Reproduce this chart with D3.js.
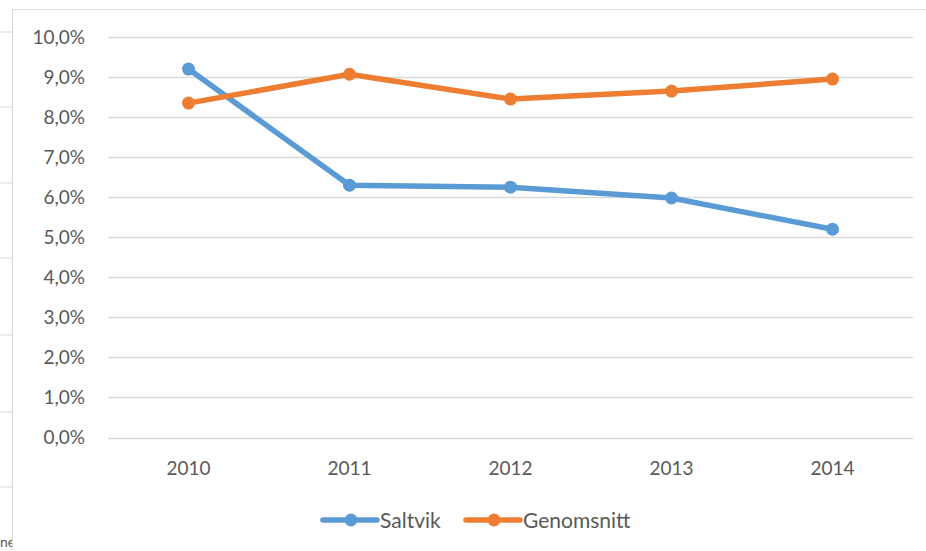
<!DOCTYPE html>
<html>
<head>
<meta charset="utf-8">
<script src="https://cdn.jsdelivr.net/npm/d3@7"></script>
<style>
  body { margin: 0; background: #fff; }
  text { font-family: Lato, "Open Sans", sans-serif; fill: #595959; }
</style>
</head>
<body>
<div id="chart"></div>
<script>
// Data
var years = ["2010", "2011", "2012", "2013", "2014"];
var saltvik = [9.2, 6.3, 6.25, 5.98, 5.2];
var genomsnitt = [8.35, 9.07, 8.45, 8.65, 8.95];
var seriesNames = ["Saltvik", "Genomsnitt"];
var seriesColors = ["#5b9bd5", "#ed7d31"];
var yTicks = [0, 1, 2, 3, 4, 5, 6, 7, 8, 9, 10];

var width = 926;
var height = 551;

var svg = d3.select("div#chart")
  .append("svg")
    .attr("width", width)
    .attr("height", height);

// Bits of a neighbouring chart peeking in at the left edge
var leftBits = [32, 107, 183, 258, 335, 412, 487];
svg.selectAll("line.bit")
  .data(leftBits)
  .enter()
  .append("line")
    .attr("x1", 0).attr("x2", 12)
    .attr("y1", function (d) { return d; })
    .attr("y2", function (d) { return d; })
    .style("stroke", "#d9d9d9");
svg.append("text")
  .attr("x", 0).attr("y", 547)
  .style("font-size", "14px")
  .text("ne");

// Chart frame
svg.append("rect")
  .attr("x", 12.5).attr("y", 9.5)
  .attr("width", 930).attr("height", 560)
  .style("fill", "#fff")
  .style("stroke", "#d9d9d9");

var x = d3.scaleBand()
  .domain(years)
  .range([108, 913]);

var y = d3.scaleLinear()
  .domain([0, 10])
  .range([437.5, 37]);

// Gridlines
svg.selectAll("line.grid")
  .data(yTicks)
  .enter()
  .append("line")
    .attr("class", "grid")
    .attr("x1", 108).attr("x2", 913)
    .attr("y1", function (d) { return Math.round(y(d)) + 0.5; })
    .attr("y2", function (d) { return Math.round(y(d)) + 0.5; })
    .style("stroke", "#d9d9d9")
    .style("stroke-width", 1.3);

// Y tick labels
var fmt = function (d) { return d.toFixed(1).replace(".", ",") + "%"; };
svg.selectAll("text.ylab")
  .data(yTicks)
  .enter()
  .append("text")
    .attr("x", 85)
    .attr("y", function (d) { return y(d); })
    .attr("dy", "0.36em")
    .attr("text-anchor", "end")
    .style("font-size", "19px")
    .text(fmt);

// X tick labels
svg.selectAll("text.xlab")
  .data(years)
  .enter()
  .append("text")
    .attr("x", function (d) { return x(d) + x.bandwidth() / 2; })
    .attr("y", 475)
    .attr("text-anchor", "middle")
    .style("font-size", "19px")
    .text(function (d) { return d; });

var allSeries = [saltvik, genomsnitt];
var line = d3.line()
  .x(function (d, i) { return x(years[i]) + x.bandwidth() / 2; })
  .y(function (d) { return y(d); });

allSeries.forEach(function (vals, s) {
  svg.append("path")
    .datum(vals)
    .attr("d", line)
    .style("fill", "none")
    .style("stroke", seriesColors[s])
    .style("stroke-width", 5.5)
    .style("stroke-linejoin", "round")
    .style("stroke-linecap", "round");

  svg.selectAll("circle.s" + s)
    .data(vals)
    .enter()
    .append("circle")
      .attr("cx", function (d, i) { return x(years[i]) + x.bandwidth() / 2; })
      .attr("cy", function (d) { return y(d); })
      .attr("r", 6.5)
      .style("fill", seriesColors[s]);
});

// Legend
var legendX = [323, 466];
var legend = svg.selectAll("g.legend")
  .data(seriesNames)
  .enter()
  .append("g")
    .attr("transform", function (d, i) { return "translate(" + legendX[i] + ", 520)"; });
legend.append("line")
  .attr("x1", 0).attr("x2", 54)
  .style("stroke", function (d, i) { return seriesColors[i]; })
  .style("stroke-width", 5.5)
  .style("stroke-linecap", "round");
legend.append("circle")
  .attr("cx", 28).attr("r", 6.5)
  .style("fill", function (d, i) { return seriesColors[i]; });
legend.append("text")
  .attr("x", 57).attr("dy", "0.36em")
  .style("font-size", "21px")
  .text(function (d) { return d; });
</script>
</body>
</html>
